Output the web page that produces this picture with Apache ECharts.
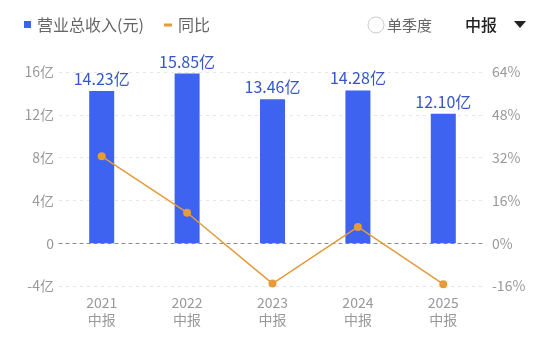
<!DOCTYPE html>
<html><head><meta charset="utf-8">
<script src="https://cdn.jsdelivr.net/npm/echarts@6/dist/echarts.min.js"></script>
<style>html,body{margin:0;padding:0;background:#fff}#c{width:550px;height:356px}</style>
</head><body><div id="c"></div>
<script>
var categories = ['2021\n中报', '2022\n中报', '2023\n中报', '2024\n中报', '2025\n中报'];
var revenue = [14.23, 15.85, 13.46, 14.28, 12.10];
var yoy = [32.5, 11.4, -15.1, 6.1, -15.3];
var leftTicks = { min: -4, max: 16, interval: 4 };
var rightTicks = { min: -16, max: 64, interval: 16 };
var legendNames = ['营业总收入(元)', '同比'];

var FONT = '"Noto Sans CJK SC", "Noto Sans", sans-serif';
var chart = echarts.init(document.getElementById('c'));
chart.setOption({
  animation: false,
  textStyle: { fontFamily: FONT },
  grid: { left: 59, right: 64, top: 72, bottom: 70, containLabel: false, outerBoundsMode: 'none' },
  xAxis: {
    type: 'category', data: categories,
    axisTick: { show: false },
    axisLine: { show: true, lineStyle: { color: '#8a8a8a', type: [3, 4], width: 1 } },
    axisLabel: { color: '#999', fontSize: 14, lineHeight: 17, margin: 8, fontFamily: FONT }
  },
  yAxis: [{
    type: 'value', min: leftTicks.min, max: leftTicks.max, interval: leftTicks.interval,
    axisLine: { show: false }, axisTick: { show: false },
    splitLine: { lineStyle: { color: '#e6e6e6', type: [3, 4] } },
    axisLabel: { color: '#999', fontSize: 14, margin: 5, fontFamily: FONT,
      formatter: function (v) { return v === 0 ? '0' : v + '亿'; } }
  }, {
    type: 'value', min: rightTicks.min, max: rightTicks.max, interval: rightTicks.interval,
    axisLine: { show: false }, axisTick: { show: false }, splitLine: { show: false },
    axisLabel: { color: '#999', fontSize: 14, margin: 6, fontFamily: FONT,
      formatter: function (v) { return v + '%'; } }
  }],
  series: [{
    name: legendNames[0], type: 'bar', data: revenue, barWidth: 25,
    itemStyle: { color: '#3D63F0' },
    label: { show: true, position: 'top', distance: 4, color: '#3556C6', fontSize: 16, fontFamily: FONT,
      formatter: function (p) { return p.value.toFixed(2) + '亿'; } }
  }, {
    name: legendNames[1], type: 'line', yAxisIndex: 1, data: yoy,
    symbol: 'circle', symbolSize: 8,
    lineStyle: { color: '#E29B3C', width: 1.5 },
    itemStyle: { color: '#E89B3A' }
  }],
  graphic: [
    { type: 'rect', shape: { x: 24, y: 21, width: 7, height: 7 }, style: { fill: '#3D63F0' } },
    { type: 'text', x: 37, y: 25, style: { text: legendNames[0], fill: '#666', fontSize: 16, fontFamily: FONT, verticalAlign: 'middle' } },
    { type: 'rect', shape: { x: 164, y: 23.5, width: 8, height: 3 }, style: { fill: '#E89B3A' } },
    { type: 'text', x: 178, y: 25, style: { text: legendNames[1], fill: '#666', fontSize: 16, fontFamily: FONT, verticalAlign: 'middle' } },
    { type: 'circle', shape: { cx: 376, cy: 25, r: 8 }, style: { fill: '#fff', stroke: '#ccc', lineWidth: 1 } },
    { type: 'text', x: 387, y: 25, style: { text: '单季度', fill: '#666', fontSize: 15, fontFamily: FONT, verticalAlign: 'middle' } },
    { type: 'text', x: 465, y: 25, style: { text: '中报', fill: '#222', fontSize: 16, fontWeight: 500, fontFamily: FONT, verticalAlign: 'middle' } },
    { type: 'polygon', shape: { points: [[514, 21], [526, 21], [520, 28]] }, style: { fill: '#222' } }
  ]
});
</script></body></html>
